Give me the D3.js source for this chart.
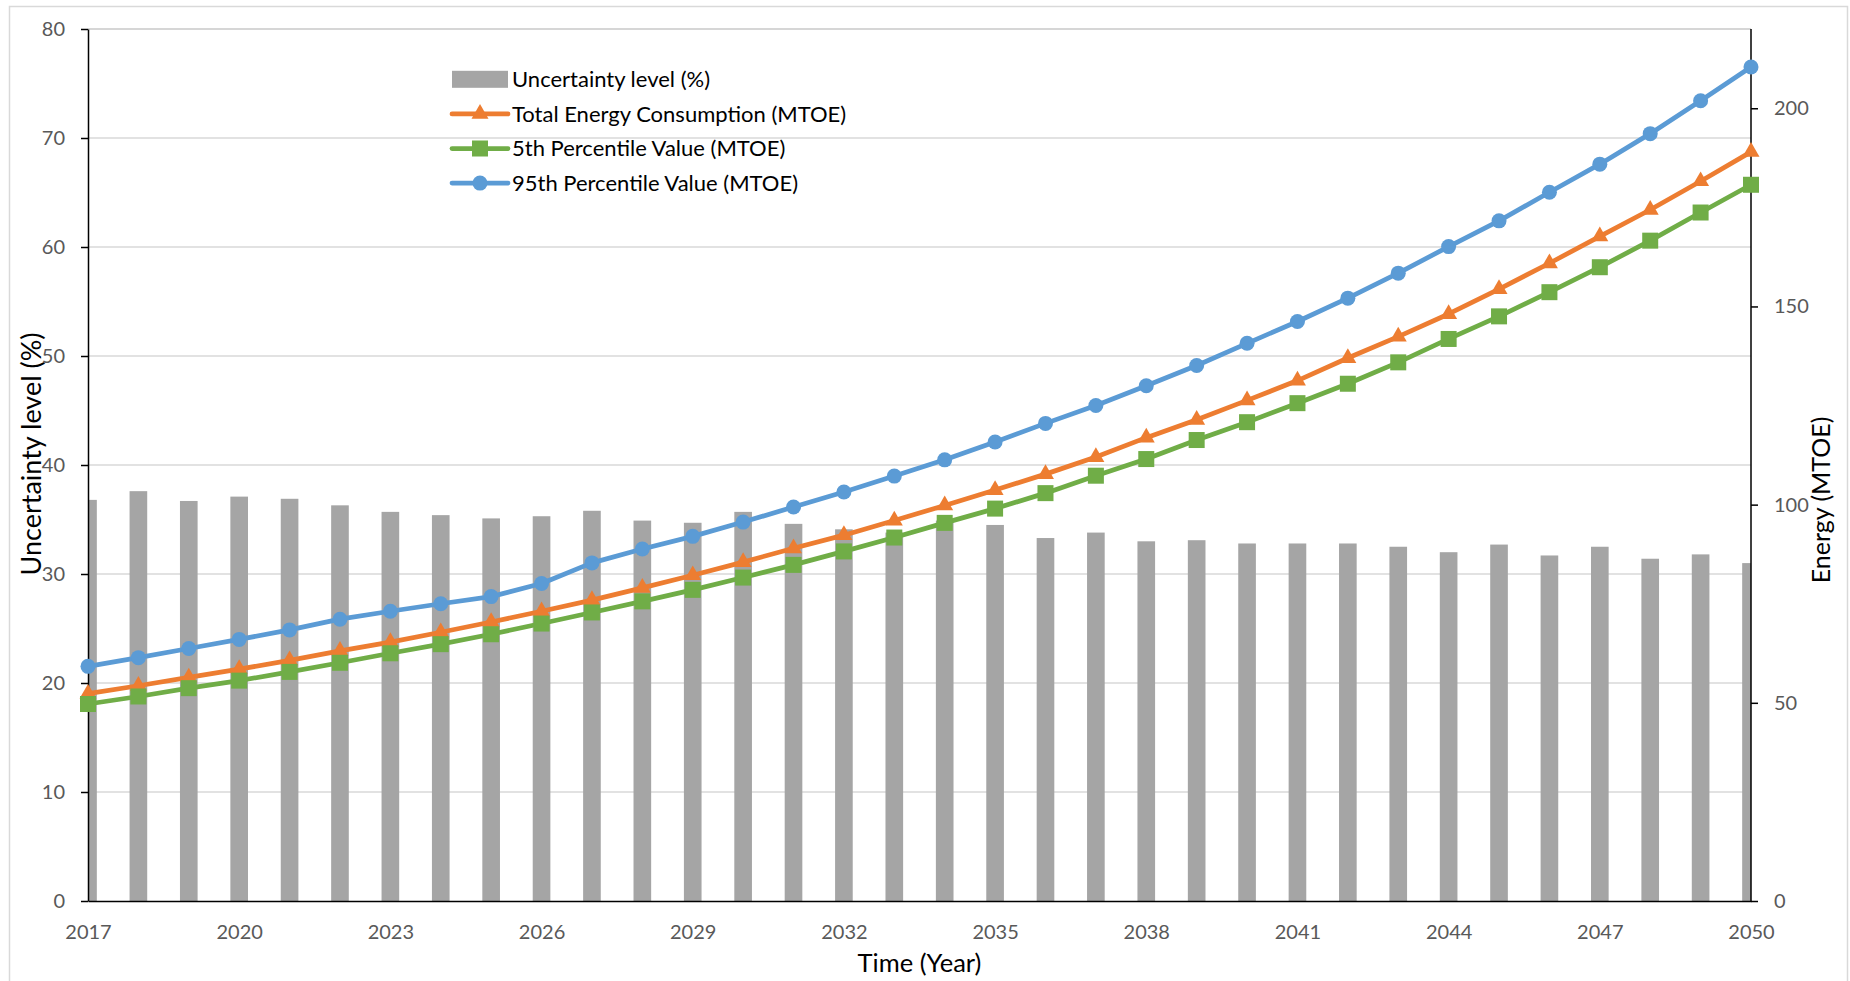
<!DOCTYPE html>
<html>
<head>
<meta charset="utf-8">
<title>Energy consumption forecast and uncertainty</title>
<script src="https://cdn.jsdelivr.net/npm/d3@7"></script>
<style>
  html, body { margin: 0; padding: 0; background: #fff; }
  svg { display: block; }
  text { font-family: Lato, "Open Sans", "Noto Sans", sans-serif; }
</style>
</head>
<body>
<svg id="chart" width="1850" height="981"></svg>
<script>
// ---- Data ----
const years = [2017, 2018, 2019, 2020, 2021, 2022, 2023, 2024, 2025, 2026, 2027,
               2028, 2029, 2030, 2031, 2032, 2033, 2034, 2035, 2036, 2037, 2038,
               2039, 2040, 2041, 2042, 2043, 2044, 2045, 2046, 2047, 2048, 2049, 2050];

// Uncertainty level (%), left axis
const uncertainty = [36.8, 37.6, 36.7, 37.1, 36.9, 36.3, 35.7, 35.4, 35.1, 35.3, 35.8,
                     34.9, 34.7, 35.7, 34.6, 34.1, 33.8, 34.9, 34.5, 33.3, 33.8, 33.0,
                     33.1, 32.8, 32.8, 32.8, 32.5, 32.0, 32.7, 31.7, 32.5, 31.4, 31.8, 31.0];

// Total Energy Consumption (MTOE), right axis
const totalEnergy = [52.3, 54.3, 56.4, 58.5, 60.7, 63.1, 65.3, 67.8, 70.4, 73.1, 75.9,
                     79.0, 82.2, 85.5, 89.0, 92.3, 96.0, 99.8, 103.7, 107.7, 112.0, 116.9,
                     121.4, 126.3, 131.3, 137.0, 142.4, 148.1, 154.4, 160.9, 167.7, 174.4, 181.6, 189.0];

// 5th percentile (MTOE), right axis
const p5 = [49.7, 51.6, 53.7, 55.6, 57.8, 60.1, 62.5, 64.8, 67.3, 70.0, 72.8,
            75.6, 78.5, 81.6, 84.8, 88.2, 91.7, 95.4, 99.0, 102.9, 107.3, 111.5,
            116.3, 120.8, 125.6, 130.5, 135.9, 141.8, 147.5, 153.6, 159.9, 166.6, 173.7, 180.7];

// 95th percentile (MTOE), right axis
const p95 = [59.2, 61.4, 63.7, 66.0, 68.4, 71.1, 73.1, 75.0, 76.8, 80.1, 85.3,
             88.8, 92.0, 95.6, 99.4, 103.2, 107.2, 111.3, 115.8, 120.5, 125.0, 130.0,
             135.1, 140.7, 146.2, 152.1, 158.4, 165.1, 171.6, 178.8, 185.9, 193.6, 201.9, 210.4];

const xTickLabels = [2017, 2020, 2023, 2026, 2029, 2032, 2035, 2038, 2041, 2044, 2047, 2050];
const leftTicks = [0, 10, 20, 30, 40, 50, 60, 70, 80];
const rightTicks = [0, 50, 100, 150, 200];

const seriesNames = ["Uncertainty level (%)", "Total Energy Consumption (MTOE)",
                     "5th Percentile Value (MTOE)", "95th Percentile Value (MTOE)"];

// ---- Layout ----
const plot = { left: 88, right: 1751, top: 29, bottom: 901 };
const colors = { bar: "#a5a5a5", total: "#ed7d31", p5: "#70ad47", p95: "#5b9bd5",
                 grid: "#d9d9d9", tick: "#595959" };

const svg = d3.select("#chart");

// chart area border
svg.append("rect")
  .attr("x", 9.5).attr("y", 6.5).attr("width", 1838).attr("height", 1000)
  .attr("fill", "#fff").attr("stroke", "#d9d9d9").attr("stroke-width", 1.5);

const x = d3.scalePoint().domain(years).range([plot.left, plot.right]).padding(0);
const yL = d3.scaleLinear().domain([0, 80]).range([plot.bottom, plot.top]);
const yR = d3.scaleLinear().domain([0, 220]).range([plot.bottom, plot.top]);

// gridlines
svg.append("g").selectAll("line")
  .data(leftTicks.filter(d => d > 0))
  .join("line")
  .attr("x1", plot.left).attr("x2", plot.right)
  .attr("y1", d => yL(d)).attr("y2", d => yL(d))
  .attr("stroke", d => d === 80 ? "#c9c9c9" : colors.grid)
  .attr("stroke-width", 1.5);

// bars, clipped to the plot area
svg.append("clipPath").attr("id", "plotClip")
  .append("rect")
  .attr("x", plot.left).attr("y", 0)
  .attr("width", plot.right - plot.left).attr("height", plot.bottom);

const barW = x.step() * 0.35;
svg.append("g").attr("clip-path", "url(#plotClip)")
  .selectAll("rect")
  .data(years.map((yr, i) => ({ yr, v: uncertainty[i] })))
  .join("rect")
  .attr("x", d => x(d.yr) - barW / 2)
  .attr("width", barW)
  .attr("y", d => yL(d.v))
  .attr("height", d => yL(0) - yL(d.v))
  .attr("fill", colors.bar);

// axes
function styleAxis(g) {
  g.select(".domain").attr("stroke", "#000").attr("stroke-width", 1.5);
  g.selectAll(".tick line").attr("stroke", "#000").attr("stroke-width", 1.5);
  g.selectAll(".tick text").attr("fill", colors.tick)
    .style("font-size", "20px").style("font-family", "Lato, 'Open Sans', sans-serif");
}

svg.append("g")
  .attr("transform", `translate(${plot.left},0)`)
  .call(d3.axisLeft(yL).tickValues(leftTicks).tickSize(7).tickSizeOuter(0).tickPadding(16))
  .call(styleAxis);

svg.append("g")
  .attr("transform", `translate(${plot.right},0)`)
  .call(d3.axisRight(yR).tickValues(rightTicks).tickSize(7).tickSizeOuter(0).tickPadding(16))
  .call(styleAxis)
  .call(g => g.select(".domain").attr("d", `M0,${plot.bottom}V${plot.top}`));

svg.append("g")
  .attr("transform", `translate(0,${plot.bottom})`)
  .call(d3.axisBottom(x).tickValues(xTickLabels).tickSize(0).tickSizeOuter(0).tickPadding(24))
  .call(styleAxis);

// lines with markers
const line = d3.line().x(d => x(d.yr)).y(d => yR(d.v));
const triangle = d3.symbol().type(d3.symbolTriangle).size(125);

function drawSeries(values, color, marker) {
  const data = years.map((yr, i) => ({ yr, v: values[i] }));
  const g = svg.append("g");
  g.append("path").datum(data)
    .attr("d", line).attr("fill", "none")
    .attr("stroke", color).attr("stroke-width", 4.75)
    .attr("stroke-linejoin", "round").attr("stroke-linecap", "round");
  const m = g.selectAll(".m").data(data).join("g")
    .attr("transform", d => `translate(${x(d.yr)},${yR(d.v)})`);
  marker(m, color);
}

const circleMarker = (sel, c) => sel.append("circle").attr("r", 7.5).attr("fill", c);
const squareMarker = (sel, c) => sel.append("rect")
  .attr("x", -8).attr("y", -8).attr("width", 16).attr("height", 16).attr("fill", c);
const triangleMarker = (sel, c) => sel.append("path").attr("d", triangle).attr("fill", c);

drawSeries(totalEnergy, colors.total, triangleMarker);
drawSeries(p5, colors.p5, squareMarker);
drawSeries(p95, colors.p95, circleMarker);

// legend
const legend = svg.append("g");
const legendX = 452, legendSwatchW = 56, legendY0 = 79.3, legendDy = 34.6;
const legendMarkers = [null, triangleMarker, squareMarker, circleMarker];
const legendColors = [colors.bar, colors.total, colors.p5, colors.p95];

seriesNames.forEach((name, i) => {
  const cy = legendY0 + i * legendDy;
  const row = legend.append("g");
  if (i === 0) {
    row.append("rect").attr("x", legendX).attr("y", cy - 8.5)
      .attr("width", legendSwatchW).attr("height", 17).attr("fill", legendColors[i]);
  } else {
    row.append("line").attr("x1", legendX).attr("x2", legendX + legendSwatchW)
      .attr("y1", cy).attr("y2", cy)
      .attr("stroke", legendColors[i]).attr("stroke-width", 4.75).attr("stroke-linecap", "round");
    const mg = row.append("g").attr("transform", `translate(${legendX + legendSwatchW / 2},${cy})`);
    legendMarkers[i](mg, legendColors[i]);
  }
  row.append("text")
    .attr("x", legendX + legendSwatchW + 4).attr("y", cy).attr("dy", "0.36em")
    .attr("fill", "#000").style("font-size", "22px")
    .text(name);
});

// axis titles
svg.append("text")
  .attr("transform", "translate(31,454) rotate(-90)")
  .attr("text-anchor", "middle").attr("dy", "0.36em")
  .style("font-size", "27px").attr("fill", "#000")
  .text("Uncertainty level (%)");

svg.append("text")
  .attr("transform", "translate(1821,500) rotate(-90)")
  .attr("text-anchor", "middle").attr("dy", "0.36em")
  .style("font-size", "25px").attr("fill", "#000")
  .text("Energy (MTOE)");

svg.append("text")
  .attr("x", (plot.left + plot.right) / 2).attr("y", 963)
  .attr("text-anchor", "middle").attr("dy", "0.36em")
  .style("font-size", "25.5px").attr("fill", "#000")
  .text("Time (Year)");
</script>
</body>
</html>
